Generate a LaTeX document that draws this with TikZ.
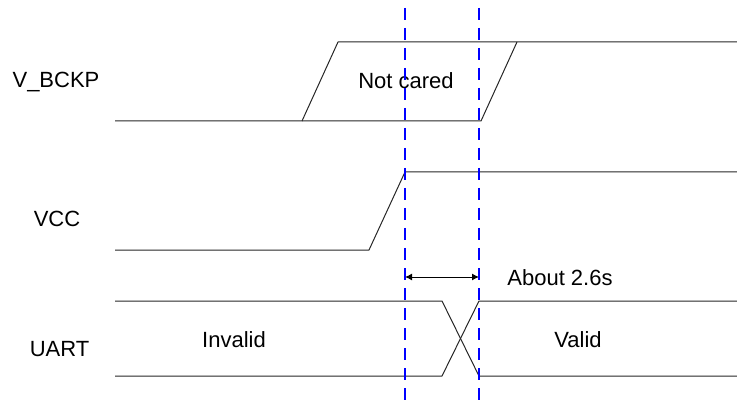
\documentclass[tikz,border=0pt]{standalone}
\usepackage{fontspec}
\setmainfont{Liberation Sans}
\usetikzlibrary{arrows.meta}
\begin{document}
\begin{tikzpicture}[x=1pt,y=-1pt,
  sig/.style={draw=black!85,line width=1pt,line join=round},
  marker/.style={draw=blue,line width=1.1pt,dash pattern=on 12pt off 8pt},
  lbl/.style={anchor=base,inner sep=0pt,font=\fontsize{22}{26}\selectfont},
  span/.style={draw=black,line width=1pt,{Latex[length=7pt,width=7pt]}-{Latex[length=7pt,width=7pt]}}]
\useasboundingbox (0,0) rectangle (737,401);

% signal names
\node[lbl] (nbckp) at (56,88) {V\_BCKP};
\node[lbl] (nvcc) at (57,226) {VCC};
\node[lbl] (nuart) at (59.5,356.5) {UART};

% V_BCKP: don't-care window
\draw[sig] (115,121) -- (302,121) -- (338,42) -- (737,42);
\draw[sig] (302,121) -- (481,121) -- (517,42);
\node[lbl] (ncared) at (406,89) {Not cared};

% VCC ramp
\draw[sig] (115,250) -- (369,250) -- (405,172) -- (737,172);

% UART transition
\draw[sig] (115,301) -- (442,301) -- (479,376) -- (737,376);
\draw[sig] (115,376) -- (442,376) -- (479,301) -- (737,301);
\node[lbl] (ninvalid) at (234,347.5) {Invalid};
\node[lbl] (nvalid) at (578,347.5) {Valid};

% delay between markers
\coordinate (d1) at (405,277);
\coordinate (d2) at (479,277);
\draw[span] (d1) -- (d2);
\node[lbl] (ndelay) at (560,285) {About 2.6s};

% timing reference markers, on top of the traces
\coordinate (m1top) at (405,8);
\coordinate (m1bot) at (405,401);
\coordinate (m2top) at (479,8);
\coordinate (m2bot) at (479,401);
\draw[marker] (m1top) -- (m1bot);
\draw[marker] (m2top) -- (m2bot);
\end{tikzpicture}
\end{document}
